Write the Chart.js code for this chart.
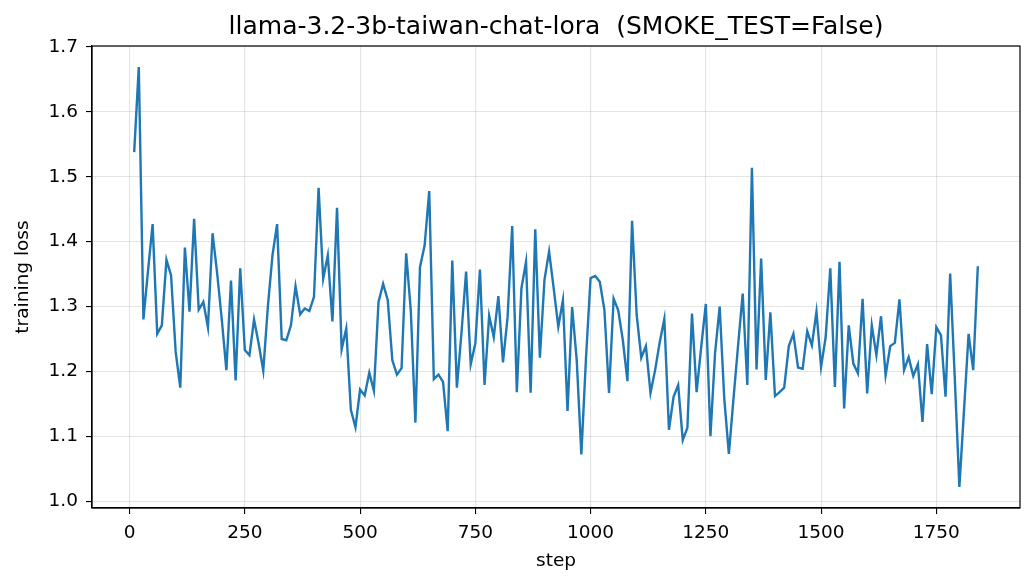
<!DOCTYPE html>
<html>
<head>
<meta charset="utf-8">
<script src="https://cdn.jsdelivr.net/npm/chart.js@4.4.1/dist/chart.umd.min.js"></script>
<style>
  body { margin: 0; background: #fff; }
  canvas { display: block; }
</style>
</head>
<body>
<canvas id="lossChart" width="1036" height="586"></canvas>
<script>
const chartTitle = "llama-3.2-3b-taiwan-chat-lora  (SMOKE_TEST=False)";

const steps = [
    10, 20, 30, 40, 50, 60, 70, 80, 90, 100, 110, 120, 130, 140, 150, 160, 170, 180, 190, 200,
    210, 220, 230, 240, 250, 260, 270, 280, 290, 300, 310, 320, 330, 340, 350, 360, 370, 380, 390, 400,
    410, 420, 430, 440, 450, 460, 470, 480, 490, 500, 510, 520, 530, 540, 550, 560, 570, 580, 590, 600,
    610, 620, 630, 640, 650, 660, 670, 680, 690, 700, 710, 720, 730, 740, 750, 760, 770, 780, 790, 800,
    810, 820, 830, 840, 850, 860, 870, 880, 890, 900, 910, 920, 930, 940, 950, 960, 970, 980, 990, 1000,
    1010, 1020, 1030, 1040, 1050, 1060, 1070, 1080, 1090, 1100, 1110, 1120, 1130, 1140, 1150, 1160, 1170, 1180, 1190, 1200,
    1210, 1220, 1230, 1240, 1250, 1260, 1270, 1280, 1290, 1300, 1310, 1320, 1330, 1340, 1350, 1360, 1370, 1380, 1390, 1400,
    1410, 1420, 1430, 1440, 1450, 1460, 1470, 1480, 1490, 1500, 1510, 1520, 1530, 1540, 1550, 1560, 1570, 1580, 1590, 1600,
    1610, 1620, 1630, 1640, 1650, 1660, 1670, 1680, 1690, 1700, 1710, 1720, 1730, 1740, 1750, 1760, 1770, 1780, 1790, 1800,
    1810, 1820, 1830, 1840
];

const trainingLoss = [
    1.538, 1.669, 1.280, 1.355, 1.427, 1.258, 1.271, 1.372, 1.348, 1.230,
    1.175, 1.391, 1.292, 1.435, 1.295, 1.307, 1.268, 1.413, 1.351, 1.280,
    1.202, 1.340, 1.186, 1.359, 1.233, 1.225, 1.280, 1.243, 1.201, 1.300,
    1.379, 1.427, 1.250, 1.248, 1.271, 1.331, 1.288, 1.297, 1.293, 1.315,
    1.483, 1.343, 1.379, 1.277, 1.452, 1.234, 1.266, 1.141, 1.114, 1.172,
    1.163, 1.198, 1.170, 1.307, 1.335, 1.310, 1.217, 1.195, 1.205, 1.382,
    1.294, 1.121, 1.361, 1.394, 1.478, 1.188, 1.195, 1.184, 1.108, 1.371,
    1.175, 1.260, 1.354, 1.211, 1.243, 1.357, 1.179, 1.286, 1.253, 1.316,
    1.214, 1.284, 1.424, 1.168, 1.328, 1.369, 1.167, 1.419, 1.221, 1.341,
    1.385, 1.328, 1.269, 1.310, 1.139, 1.299, 1.217, 1.072, 1.220, 1.344,
    1.347, 1.338, 1.295, 1.167, 1.312, 1.294, 1.248, 1.185, 1.432, 1.287,
    1.221, 1.239, 1.167, 1.202, 1.245, 1.281, 1.110, 1.161, 1.179, 1.094,
    1.113, 1.289, 1.168, 1.238, 1.304, 1.100, 1.228, 1.300, 1.158, 1.073,
    1.158, 1.240, 1.320, 1.179, 1.514, 1.203, 1.374, 1.187, 1.291, 1.162,
    1.168, 1.175, 1.239, 1.258, 1.206, 1.204, 1.262, 1.240, 1.292, 1.207,
    1.253, 1.359, 1.176, 1.369, 1.143, 1.271, 1.212, 1.197, 1.312, 1.166,
    1.271, 1.225, 1.285, 1.194, 1.239, 1.244, 1.311, 1.202, 1.222, 1.193,
    1.211, 1.122, 1.242, 1.165, 1.268, 1.256, 1.161, 1.351, 1.190, 1.022,
    1.140, 1.258, 1.202, 1.362
];

const xTicks = [0, 250, 500, 750, 1000, 1250, 1500, 1750];
const yTicks = [1.0, 1.1, 1.2, 1.3, 1.4, 1.5, 1.6, 1.7];

const FONT = "DejaVu Sans";

// рамка со всех четырёх сторон + заголовок по центру области графика
const framePlugin = {
    id: "frame",
    afterDraw(chart) {
        const { ctx, chartArea: a } = chart;
        ctx.save();
        ctx.strokeStyle = "#000";
        ctx.lineWidth = 1.2;
        ctx.strokeRect(a.left, a.top, a.right - a.left, a.bottom - a.top);
        ctx.fillStyle = "#000";
        ctx.font = `25px "${FONT}"`;
        ctx.textAlign = "center";
        ctx.textBaseline = "alphabetic";
        ctx.fillText(chartTitle, (a.left + a.right) / 2, 34);
        ctx.restore();
    }
};

const ctx = document.getElementById("lossChart").getContext("2d");

new Chart(ctx, {
    type: "line",
    data: {
        datasets: [{
            data: steps.map((s, i) => ({ x: s, y: trainingLoss[i] })),
            borderColor: "#1f77b4",
            borderWidth: 2.4,
            pointRadius: 0,
            tension: 0,
            fill: false
        }]
    },
    options: {
        responsive: false,
        animation: false,
        devicePixelRatio: 1,
        layout: { padding: { left: 0, right: 16, top: 46, bottom: 0 } },
        plugins: {
            legend: { display: false },
            tooltip: { enabled: false }
        },
        scales: {
            x: {
                type: "linear",
                min: -81.5,
                max: 1931.5,
                afterBuildTicks: scale => { scale.ticks = xTicks.map(v => ({ value: v })); },
                afterFit: scale => { scale.height = 78; },
                ticks: {
                    color: "#000",
                    font: { family: FONT, size: 18.5 },
                    padding: 8,
                    maxRotation: 0,
                    callback: v => String(v)
                },
                grid: {
                    color: "rgba(170,170,170,0.32)",
                    lineWidth: 1.1,
                    tickColor: "#000",
                    tickLength: 6
                },
                border: { color: "#000", width: 1.2 },
                title: {
                    display: true,
                    text: "step",
                    color: "#000",
                    font: { family: FONT, size: 18.5 },
                    padding: { top: 0, bottom: 14 }
                }
            },
            y: {
                type: "linear",
                min: 0.9895,
                max: 1.7015,
                afterBuildTicks: scale => { scale.ticks = yTicks.map(v => ({ value: v })); },
                afterFit: scale => { scale.width = 92; },
                ticks: {
                    color: "#000",
                    font: { family: FONT, size: 18.5 },
                    padding: 8,
                    callback: v => v.toFixed(1)
                },
                grid: {
                    color: "rgba(170,170,170,0.32)",
                    lineWidth: 1.1,
                    tickColor: "#000",
                    tickLength: 6
                },
                border: { color: "#000", width: 1.2 },
                title: {
                    display: true,
                    text: "training loss",
                    color: "#000",
                    font: { family: FONT, size: 18.5 },
                    padding: { top: 12, bottom: 0 }
                }
            }
        }
    },
    plugins: [framePlugin]
});
</script>
</body>
</html>
